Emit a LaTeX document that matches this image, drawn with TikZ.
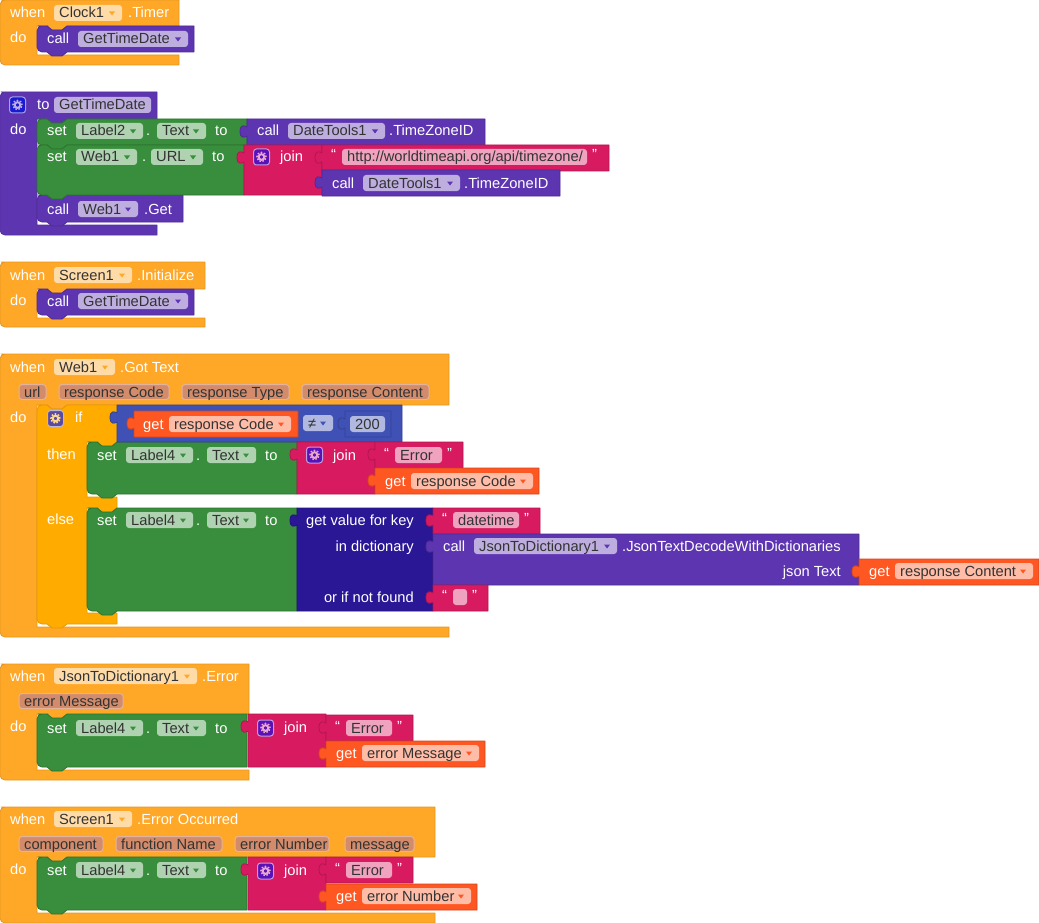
\documentclass[tikz,border=0pt]{standalone}
\usepackage{fontspec}
\setmainfont{Liberation Sans}
\definecolor{evt}{HTML}{FFA726}
\definecolor{evtpill}{HTML}{FFDBA8}
\definecolor{proc}{HTML}{5E35B1}
\definecolor{procpill}{HTML}{BEAEE0}
\definecolor{prop}{HTML}{388E3C}
\definecolor{proppill}{HTML}{AFD2B1}
\definecolor{strb}{HTML}{D81B60}
\definecolor{strbpill}{HTML}{EFA3BF}
\definecolor{cmpb}{HTML}{3F51B5}
\definecolor{cmpbpill}{HTML}{B2B9E1}
\definecolor{getb}{HTML}{FF5722}
\definecolor{getbpill}{HTML}{FFBCA6}
\definecolor{ifb}{HTML}{FFAB00}
\definecolor{dictb}{HTML}{2A1796}
\definecolor{parpill}{HTML}{D28C6C}
\definecolor{parline}{HTML}{E4B39C}
\definecolor{fieldtxt}{HTML}{333333}
\definecolor{gearblue}{HTML}{1A1AD0}
\definecolor{gearpurple}{HTML}{5A12B8}
\definecolor{gearolive}{HTML}{5C4AA0}
\definecolor{gearpink}{HTML}{E8A8D0}
\definecolor{gearyellow}{HTML}{FFD98A}
\tikzset{
	blk/.style    = {line width=0.8pt, line join=round},
	lbl/.style    = {text=white, font=\fontsize{14.67}{16}\selectfont, inner sep=0pt, anchor=base west},
	lblr/.style   = {lbl, anchor=base east},
	ftxt/.style   = {lbl, text=fieldtxt}
}
% statement block: colour, x0, y0, x1, y1
\newcommand{\stmt}[5]{
	\filldraw[blk, fill=#1, draw=#1!82!black] (#2+6,#3) -- (#2+10,#3) -- (#2+15,#3+4) -- (#2+25,#3+4) -- (#2+30,#3) -- (#4,#3) -- (#4,#5) -- (#2+30,#5) -- (#2+25,#5+4) -- (#2+15,#5+4) -- (#2+10,#5) [rounded corners=5pt] -- (#2,#5) -- (#2,#3) -- cycle;
}
% event block: colour, x top, y top, y header, y hole, x bottom, y bottom
\newcommand{\hatb}[7]{
	\filldraw[blk, fill=#1, draw=#1!90!black] (6,#3) -- (#2,#3) -- (#2,#4) -- (67,#4) -- (62,#4+4) -- (52,#4+4) -- (47,#4) -- (37,#4) -- (37,#5) -- (#6,#5) -- (#6,#7) [rounded corners=5pt] -- (0,#7) -- (0,#3) -- cycle;
}
% value block: colour, x0, y0, x1, y1
\newcommand{\vblk}[5]{
	\filldraw[blk, fill=#1, draw=#1!82!black] (#2,#3) -- (#4,#3) -- (#4,#5) -- (#2,#5) -- (#2,#3+17) .. controls (#2-2,#3+18.5) and (#2-7,#3+20) .. (#2-7,#3+12.5) .. controls (#2-7,#3+5) and (#2-2,#3+6.5) .. (#2,#3+8) -- cycle;
}
% field with drop-down: name, x0, x1, y, colour, text
\newcommand{\ddf}[6]{
	\fill[#5pill, rounded corners=3pt] (#2,#4-8) rectangle (#3,#4+8);
	\draw node at (#2+5,#4+5) [ftxt] (#1) {#6};
	\fill[#5] (#3-13,#4-1.5) -- (#3-7,#4-1.5) -- (#3-10,#4+2.5) -- cycle;
}
% plain field: name, x0, x1, y, colour, text
\newcommand{\txf}[6]{
	\fill[#5pill, rounded corners=3pt] (#2,#4-8) rectangle (#3,#4+8);
	\draw node at (#2+5,#4+5) [ftxt] (#1) {#6};
}
% event parameter: name, x0, x1, y, text
\newcommand{\parf}[5]{
	\filldraw[fill=parpill, draw=parline, line width=1pt, rounded corners=3pt] (#2,#4-7.5) rectangle (#3,#4+7.5);
	\draw node at (#2+5,#4+5) [ftxt] (#1) {#5};
}
% white label: name, x, y, text
\newcommand{\tagl}[4]{
	\draw node at (#2,#3+5) [lbl] (#1) {#4};
}
\newcommand{\tagr}[4]{
	\draw node at (#2,#3+5) [lblr] (#1) {#4};
}
% mutator icon: x, y centre, fill colour, gear colour
\newcommand{\gearbox}[4]{
	\filldraw[fill=#3, draw=white!60!#3, line width=1pt, rounded corners=3pt] (#1-8,#2-8) rectangle (#1+8,#2+8);
	\draw[#4, line width=2pt] (#1,#2) circle (2.8pt);
	\draw[#4, line width=1.5pt, dash pattern=on 1.6pt off 1.55pt] (#1,#2) circle (4.6pt);
}
% set Label . Text to: prefix, x, y
\newcommand{\setlabel}[4]{
	\tagl{#1set}{#2+10}{#3}{set}
	\ddf{#1lab}{#2+39}{#2+106}{#3}{prop}{#4}
	\tagl{#1dot}{#2+109}{#3}{.}
	\ddf{#1txt}{#2+120}{#2+169}{#3}{prop}{Text}
	\tagl{#1to}{#2+178}{#3}{to}
}
% string block: prefix, x0, y0, x1, pill x1, y text, text
\newcommand{\strblk}[7]{
	\vblk{strb}{#2}{#3}{#4}{#3+26}
	\tagl{#1lq}{#2+9}{#6-2}{“}
	\txf{#1val}{#2+20}{#5}{#6}{strb}{#7}
	\tagl{#1rq}{#5+5}{#6-2}{”}
}
\begin{document}
\begin{tikzpicture}[x=1pt, y=-1pt]
	\useasboundingbox (0,0) rectangle (1039,923);

	% Clock timer
	\hatb{evt}{179}{0}{26}{55}{179}{65}
	\stmt{proc}{37}{26}{194}{52}
	\tagl{whenA}{10}{13}{when}
	\ddf{clockA}{54}{122}{13}{evt}{Clock1}
	\tagl{timerA}{128}{13}{.Timer}
	\tagl{doA}{10}{38}{do}
	\tagl{callA}{47}{39}{call}
	\ddf{gtdA}{78}{188}{39}{proc}{GetTimeDate}

	% procedure
	\hatb{proc}{157}{92}{119}{225}{157}{235}
	\gearbox{17.5}{105}{gearblue}{procpill}
	\tagl{toB}{37}{105}{to}
	\txf{gtdB}{54}{151}{105}{proc}{GetTimeDate}
	\tagl{doB}{10}{130}{do}
	\stmt{proc}{37}{195}{183}{222}
	\stmt{prop}{37}{119}{247}{145}
	\stmt{prop}{37}{145}{244}{195}
	\setlabel{b}{37}{131}{Label2}
	\tagl{setC}{47}{157}{set}
	\ddf{webC}{76}{137}{157}{prop}{Web1}
	\tagl{dotC}{142}{157}{.}
	\ddf{urlC}{151}{203}{157}{prop}{URL}
	\tagl{toC}{212}{157}{to}
	\tagl{callB}{47}{209}{call}
	\ddf{webB}{78}{138}{209}{proc}{Web1}
	\tagl{getB}{144}{209}{.Get}
	\vblk{proc}{247}{119}{485}{145}
	\tagl{callC}{257}{131}{call}
	\ddf{dtC}{288}{385}{131}{proc}{DateTools1}
	\tagl{tzC}{389}{131}{.TimeZoneID}
	\vblk{strb}{244}{145}{322}{195}
	\gearbox{261.5}{157}{gearpurple}{gearpink}
	\tagl{joinC}{280}{157}{join}
	\strblk{urlS}{322}{145}{609}{587}{157}{http://worldtimeapi.org/api/timezone/}
	\vblk{proc}{322}{170}{560}{196}
	\tagl{callD}{332}{183}{call}
	\ddf{dtD}{363}{460}{183}{proc}{DateTools1}
	\tagl{tzD}{464}{183}{.TimeZoneID}

	% screen initialize
	\hatb{evt}{205}{262}{289}{318}{205}{327}
	\stmt{proc}{37}{289}{194}{315}
	\tagl{whenE}{10}{275}{when}
	\ddf{screenE}{54}{132}{275}{evt}{Screen1}
	\tagl{initE}{137}{275}{.Initialize}
	\tagl{doE}{10}{300}{do}
	\tagl{callE}{47}{301}{call}
	\ddf{gtdE}{78}{188}{301}{proc}{GetTimeDate}

	% got text
	\hatb{evt}{449}{354}{405}{627}{449}{637}
	\tagl{whenF}{10}{367}{when}
	\ddf{webF}{54}{115}{367}{evt}{Web1}
	\tagl{gotF}{120}{367}{.Got Text}
	\parf{urlF}{19}{46}{392}{url}
	\parf{codeF}{59}{169}{392}{response Code}
	\parf{typeF}{182}{289}{392}{response Type}
	\parf{contF}{302}{429}{392}{response Content}
	\tagl{doF}{10}{417}{do}
	\filldraw[blk, fill=ifb, draw=ifb!90!black] (43,405) -- (47,405) -- (52,409) -- (62,409) -- (67,405) -- (117,405) -- (117,442) -- (112,446) -- (102,446) -- (97,442) -- (87,442) -- (87,497) -- (117,497) -- (117,508) -- (112,512) -- (102,512) -- (97,508) -- (87,508) -- (87,613) -- (117,613) -- (117,624) -- (67,624) -- (62,628) -- (52,628) -- (47,624) [rounded corners=5pt] -- (37,624) -- (37,405) -- cycle;
	\gearbox{55.5}{418.5}{gearolive}{gearyellow}
	\tagl{ifF}{75}{417}{if}
	\tagl{thenF}{47}{454}{then}
	\tagl{elseF}{47}{519}{else}
	\stmt{prop}{87}{442}{297}{494}
	\stmt{prop}{87}{508}{297}{611}
	\setlabel{t}{87}{455}{Label4}
	\setlabel{e}{87}{520}{Label4}
	\vblk{cmpb}{117}{405}{402}{442}
	\vblk{getb}{134}{411}{298}{437}
	\tagl{getG}{143}{424}{get}
	\ddf{codeG}{169}{291}{424}{getb}{response Code}
	\ddf{neG}{303}{333}{423}{cmpb}{≠}
	\vblk{cmpb}{345}{411}{391}{437}
	\txf{numG}{350}{385}{424}{cmpb}{200}
	\vblk{strb}{297}{442}{375}{494}
	\gearbox{314.5}{455}{gearpurple}{gearpink}
	\tagl{joinH}{333}{455}{join}
	\strblk{errH}{375}{442}{463}{442}{455}{Error}
	\vblk{getb}{375}{468}{539}{494}
	\tagl{getH}{385}{481}{get}
	\ddf{codeH}{411}{533}{481}{getb}{response Code}
	\vblk{dictb}{297}{508}{433}{611}
	\tagr{keyI}{414}{520}{get value for key}
	\tagr{dictI}{414}{546}{in dictionary}
	\tagr{nfI}{414}{597}{or if not found}
	\strblk{dateI}{433}{508}{540}{519}{520}{datetime}
	\vblk{proc}{433}{534}{859}{585}
	\tagl{callI}{443}{546}{call}
	\ddf{jsonI}{474}{617}{546}{proc}{JsonToDictionary1}
	\tagl{decI}{622}{546}{.JsonTextDecodeWithDictionaries}
	\tagr{jtI}{841}{571}{json Text}
	\vblk{getb}{859}{559}{1039}{585}
	\tagl{getI}{869}{571}{get}
	\ddf{contI}{895}{1033}{571}{getb}{response Content}
	\strblk{emptyI}{433}{585}{488}{467}{597}{}

	% json error
	\hatb{evt}{249}{664}{714}{770}{249}{780}
	\tagl{whenJ}{10}{676}{when}
	\ddf{jsonJ}{54}{197}{676}{evt}{JsonToDictionary1}
	\tagl{errJ}{202}{676}{.Error}
	\parf{msgJ}{19}{123}{701}{error Message}
	\tagl{doJ}{10}{726}{do}
	\stmt{prop}{37}{714}{247}{767}
	\setlabel{j}{37}{728}{Label4}
	\vblk{strb}{248}{714}{326}{767}
	\gearbox{265.5}{728}{gearpurple}{gearpink}
	\tagl{joinJ}{284}{727}{join}
	\strblk{errK}{326}{715}{413}{392}{728}{Error}
	\vblk{getb}{326}{741}{485}{767}
	\tagl{getK}{336}{753}{get}
	\ddf{msgK}{362}{479}{753}{getb}{error Message}

	% error occurred
	\hatb{evt}{435}{807}{857}{913}{435}{923}
	\tagl{whenL}{10}{819}{when}
	\ddf{screenL}{54}{132}{819}{evt}{Screen1}
	\tagl{errL}{137}{819}{.Error Occurred}
	\parf{compL}{19}{103}{844}{component}
	\parf{funcL}{116}{222}{844}{function Name}
	\parf{numL}{235}{329}{844}{error Number}
	\parf{msgL}{345}{414}{844}{message}
	\tagl{doL}{10}{869}{do}
	\stmt{prop}{37}{857}{247}{910}
	\setlabel{l}{37}{870}{Label4}
	\vblk{strb}{248}{857}{326}{910}
	\gearbox{265.5}{871}{gearpurple}{gearpink}
	\tagl{joinL}{284}{870}{join}
	\strblk{errM}{326}{857}{413}{392}{870}{Error}
	\vblk{getb}{326}{884}{477}{910}
	\tagl{getM}{336}{896}{get}
	\ddf{numM}{362}{471}{896}{getb}{error Number}
\end{tikzpicture}
\end{document}
